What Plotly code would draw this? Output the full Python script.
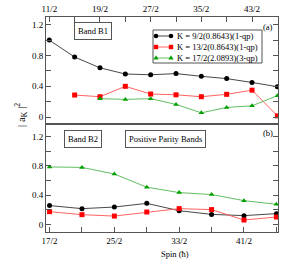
import plotly.graph_objects as go
from plotly.subplots import make_subplots

# Top panel (a): Band B1
spin_a = [5.5, 7.5, 9.5, 11.5, 13.5, 15.5, 17.5, 19.5, 21.5, 23.5]
a_k92 = [1.00, 0.78, 0.64, 0.56, 0.55, 0.565, 0.53, 0.50, 0.45, 0.395]
a_k132 = [None, 0.287, 0.265, 0.40, 0.30, 0.29, 0.265, 0.296, 0.35, 0.017]
a_k172 = [None, None, 0.24, 0.23, 0.24, 0.165, 0.056, 0.126, 0.147, 0.278]

# Bottom panel (b): Band B2
spin_b = [8.5, 10.5, 12.5, 14.5, 16.5, 18.5, 20.5, 22.5]
b_k92 = [0.26, 0.218, 0.24, 0.29, 0.19, 0.14, 0.123, 0.15]
b_k132 = [0.177, 0.136, 0.117, 0.172, 0.218, 0.205, 0.063, 0.104]
b_k172 = [0.786, 0.78, 0.69, 0.51, 0.437, 0.41, 0.327, 0.277]

names = ["K = 9/2(0.8643)(1-qp)", "K = 13/2(0.8643)(1-qp)", "K = 17/2(2.0893)(3-qp)"]

top_tickvals = [5.5, 9.5, 13.5, 17.5, 21.5]
top_ticktext = ["11/2", "19/2", "27/2", "35/2", "43/2"]
bot_tickvals = [8.5, 12.5, 16.5, 20.5]
bot_ticktext = ["17/2", "25/2", "33/2", "41/2"]
y_tickvals = [0, 0.4, 0.8, 1.2]
y_ticktext = ["0", "0.4", "0.8", "1.2"]

FONT = "Liberation Serif"
AX = "#555555"

# plot-area pixel geometry helpers (layout only)
L, R, T, B = 46, 278, 17, 232
def px(x):
    return (x - L) / (R - L)
def py(y):
    return (B - y) / (B - T)

fig = make_subplots(rows=2, cols=1, vertical_spacing=0)

styles = [
    dict(mcolor="black", lcolor="#333333", symbol="circle", size=5),
    dict(mcolor="red", lcolor="#ff5050", symbol="square", size=5),
    dict(mcolor="#00a000", lcolor="#50b850", symbol="triangle-up", size=5),
]

for i, (ya, yb) in enumerate([(a_k92, b_k92), (a_k132, b_k132), (a_k172, b_k172)]):
    st = styles[i]
    for row, xs, ys in [(1, spin_a, ya), (2, spin_b, yb)]:
        fig.add_trace(go.Scatter(x=xs, y=ys, mode="lines+markers", name=names[i],
                                 line=dict(color=st["lcolor"], width=0.9),
                                 marker=dict(color=st["mcolor"], symbol=st["symbol"], size=st["size"],
                                             line=dict(width=0)),
                                 showlegend=False, hoverinfo="skip"), row=row, col=1)

axis_common = dict(showline=True, linecolor=AX, linewidth=1, ticks="inside",
                   tickcolor=AX, ticklen=5, tickwidth=1, showgrid=False, zeroline=False,
                   automargin=False,
                   tickfont=dict(family=FONT, size=9, color="black"))

fig.update_xaxes(**axis_common)
fig.update_yaxes(**axis_common)

fig.update_xaxes(side="top", range=[5.24, 23.55], tickvals=top_tickvals, ticktext=top_ticktext,
                 mirror=True, minor=dict(tick0=5.5, dtick=2, ticks="inside", ticklen=5, tickcolor=AX),
                 row=1, col=1)
fig.update_xaxes(range=[8.28, 22.6], tickvals=bot_tickvals, ticktext=bot_ticktext,
                 mirror=True, minor=dict(tick0=8.5, dtick=2, ticks="inside", ticklen=5, tickcolor=AX),
                 row=2, col=1)
fig.update_yaxes(range=[-0.09, 1.30], tickvals=y_tickvals, ticktext=y_ticktext, mirror="ticks",
                 minor=dict(dtick=0.2, tick0=0, ticks="inside", ticklen=5, tickcolor=AX),
                 row=1, col=1)
fig.update_yaxes(range=[-0.1, 1.37], tickvals=y_tickvals, ticktext=y_ticktext, mirror="ticks",
                 minor=dict(dtick=0.2, tick0=0, ticks="inside", ticklen=5, tickcolor=AX),
                 row=2, col=1)

fig.update_layout(
    template="none",
    width=299, height=278,
    margin=dict(l=L, r=299 - R, t=T, b=278 - B, pad=0, autoexpand=False),
    paper_bgcolor="white", plot_bgcolor="white",
    font=dict(family=FONT, size=9, color="black"),
    showlegend=False,
)
fig.update_layout(yaxis=dict(domain=[0.502, 1.0]), yaxis2=dict(domain=[0.0, 0.502]))

TXT = 8.5
ann = [
    dict(text="| a<sub>K</sub> |<sup>2</sup>", x=px(21), y=py(115), textangle=-90,
         font=dict(family=FONT, size=11)),
    dict(text="Spin (ħ)", x=px(175), y=py(254), font=dict(family=FONT, size=TXT)),
    dict(text="(a)", x=px(268), y=py(27), font=dict(family=FONT, size=TXT)),
    dict(text="(b)", x=px(268), y=py(133), font=dict(family=FONT, size=TXT)),
    dict(text="Band B1", x=px(93), y=py(31.5), bordercolor=AX, borderwidth=1, borderpad=3,
         bgcolor="white", font=dict(family=FONT, size=TXT)),
    dict(text="Band B2", x=px(83), y=py(138.5), bordercolor=AX, borderwidth=1, borderpad=3,
         bgcolor="white", font=dict(family=FONT, size=TXT)),
    dict(text="Positive Parity Bands", x=px(165.5), y=py(138.5), bordercolor=AX, borderwidth=1,
         borderpad=3, bgcolor="white", font=dict(family=FONT, size=TXT)),
]

# Manual compact legend
shapes = [dict(type="rect", xref="paper", yref="paper", x0=px(153), x1=px(262), y0=py(63), y1=py(30),
               line=dict(color=AX, width=1), fillcolor="white", layer="above")]
rows_y = [36, 47, 58]
for i, st in enumerate(styles):
    yy = py(rows_y[i])
    shapes.append(dict(type="line", xref="paper", yref="paper", x0=px(156), x1=px(171), y0=yy, y1=yy,
                       line=dict(color=st["lcolor"], width=0.9), layer="above"))
    for xm in (156, 171):
        common = dict(xref="paper", yref="paper", xsizemode="pixel", ysizemode="pixel",
                      xanchor=px(xm), yanchor=yy, fillcolor=st["mcolor"],
                      line=dict(width=0), layer="above")
        if st["symbol"] == "circle":
            shapes.append(dict(type="circle", x0=-2.3, x1=2.3, y0=-2.3, y1=2.3, **common))
        elif st["symbol"] == "square":
            shapes.append(dict(type="rect", x0=-2.2, x1=2.2, y0=-2.2, y1=2.2, **common))
        else:
            shapes.append(dict(type="path", path="M-2.6,-1.6 L2.6,-1.6 L0,2.8 Z", **common))
    ann.append(dict(text=names[i], x=px(175), y=yy, xanchor="left",
                    font=dict(family=FONT, size=TXT)))

for a in ann:
    a.setdefault("xref", "paper")
    a.setdefault("yref", "paper")
    a.setdefault("xanchor", "center")
    a.setdefault("yanchor", "middle")
    a["showarrow"] = False
fig.update_layout(annotations=ann, shapes=shapes)

fig.write_html("out.html", config={"displayModeBar": False, "staticPlot": True},
               post_script="document.body.style.margin='0';document.body.style.overflow='hidden';")
